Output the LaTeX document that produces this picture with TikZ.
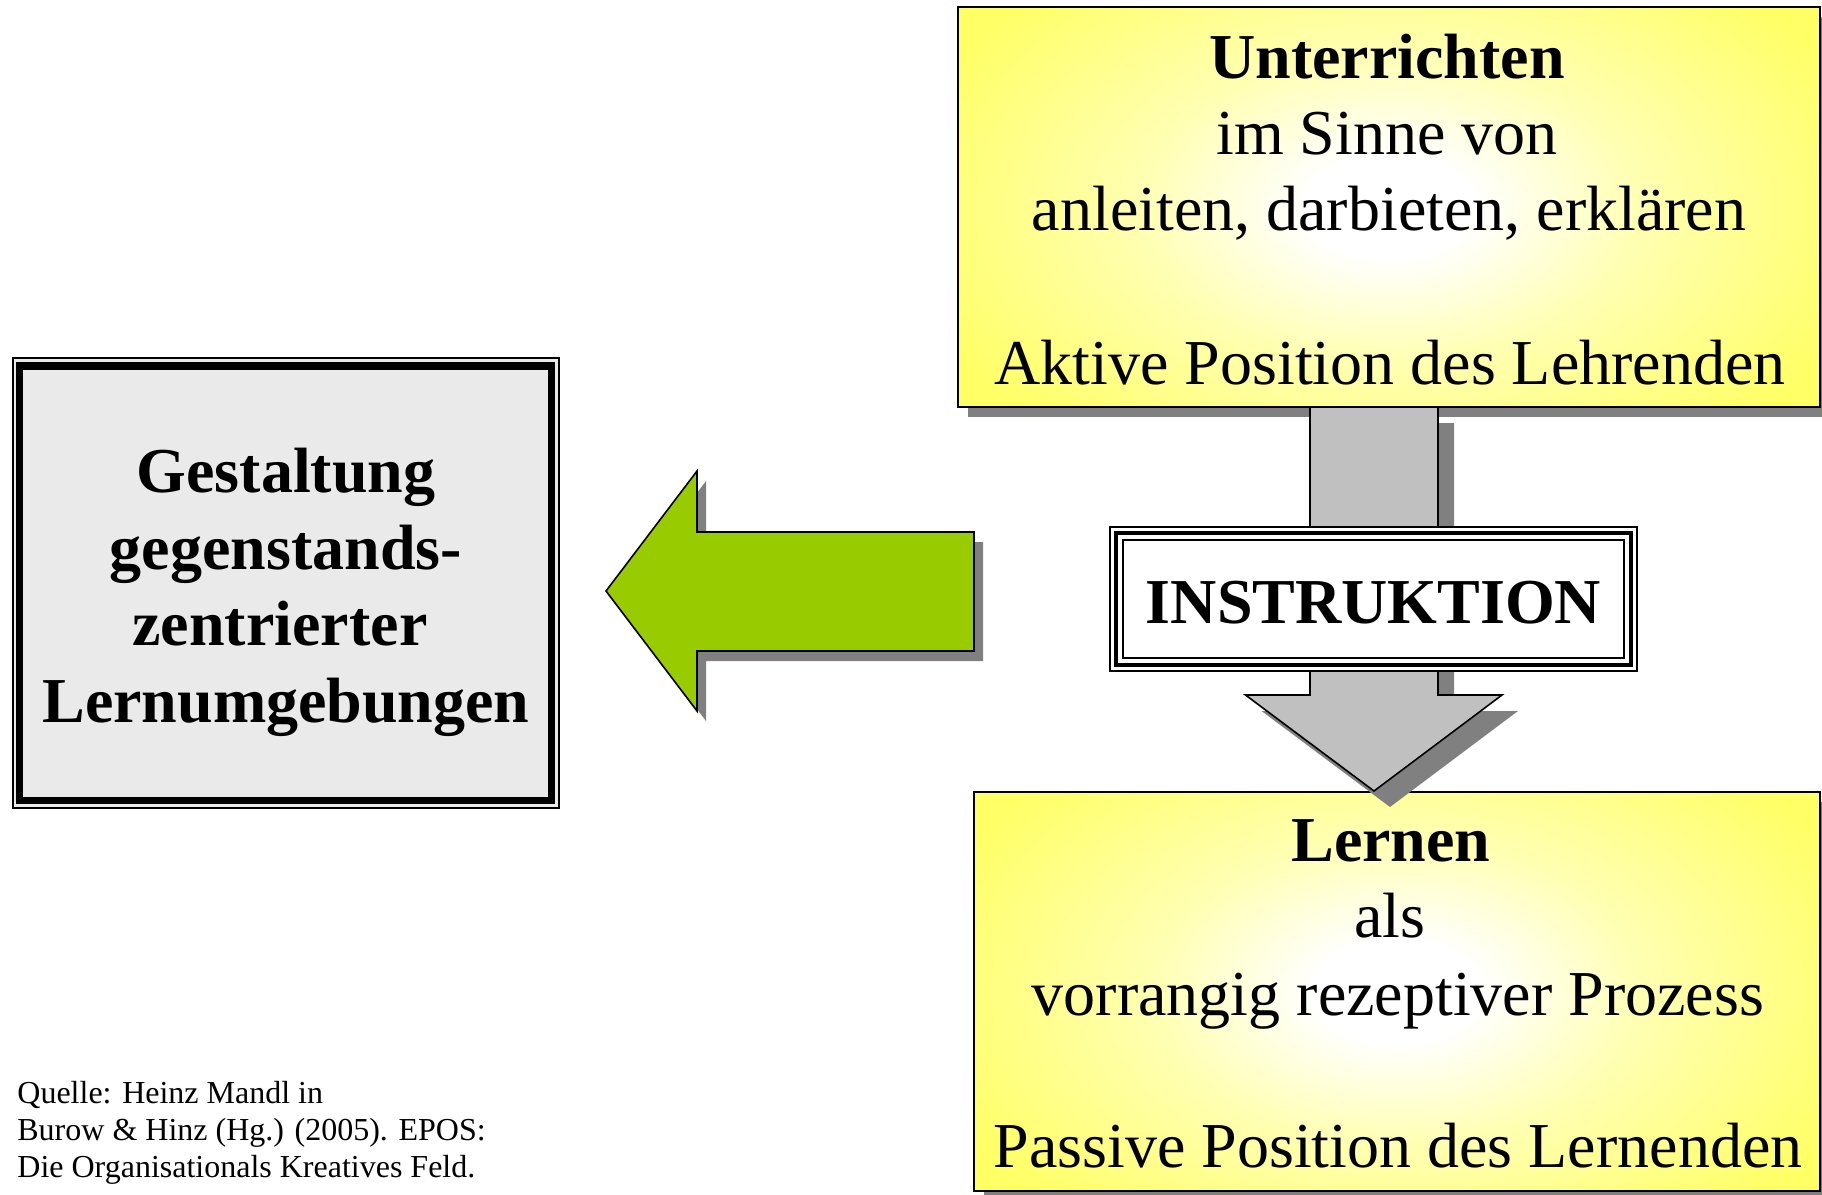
\documentclass[tikz,border=0pt]{standalone}
\usepackage{fontspec}
\setmainfont{Liberation Serif}
\definecolor{yel}{RGB}{255,255,102}
\definecolor{shad}{RGB}{128,128,128}
\definecolor{arrgrey}{RGB}{192,192,192}
\definecolor{grn}{RGB}{153,204,0}
\definecolor{lgrey}{RGB}{234,234,234}
\pgfdeclareradialshading{yglow}{\pgfpoint{0bp}{0bp}}{color(0bp)=(white); color(4bp)=(white); color(12bp)=(yel!50!white); color(24bp)=(yel); color(50bp)=(yel)}
\begin{document}
\begin{tikzpicture}[x=0.5pt,y=-0.5pt,
  bigtxt/.style={font=\fontsize{32}{38}\selectfont, anchor=base, inner sep=0pt},
  bigbold/.style={font=\fontsize{32}{38}\selectfont\bfseries, anchor=base, inner sep=0pt},
  smalltxt/.style={font=\fontsize{16}{19}\selectfont, anchor=base west, inner sep=0pt},
  boxline/.style={draw=black, line width=0.8pt},
  shadowfill/.style={fill=shad}]
\useasboundingbox (0,0) rectangle (1822,1195);

% corner coordinates
\coordinate (tNW) at (958,7);   \coordinate (tSE) at (1820,407);
\coordinate (bNW) at (974,792); \coordinate (bSE) at (1820,1191);

% shadows of yellow boxes
\fill[shadowfill] ([shift={(10,10)}]tNW) rectangle ([shift={(10,10)}]tSE);
\fill[shadowfill] ([shift={(10,10)}]bNW) rectangle ([shift={(10,10)}]bSE);

% top yellow box
\begin{scope}
  \clip (tNW) rectangle (tSE);
  \shade[shading=yglow] (872,-113) rectangle (1906,527);
\end{scope}
\draw[boxline] (tNW) rectangle (tSE);

% bottom yellow box
\begin{scope}
  \clip (bNW) rectangle (bSE);
  \shade[shading=yglow] (889,672) rectangle (1905,1311);
\end{scope}
\draw[boxline] (bNW) rectangle (bSE);

% vertical block arrow (shadow + arrow)
\fill[shadowfill, shift={(16,16)}] (1310,407) -- (1438,407) -- (1438,695) -- (1502,695) -- (1374,791) -- (1245.5,695) -- (1310,695) -- cycle;
\filldraw[fill=arrgrey, boxline] (1310,407) -- (1438,407) -- (1438,695) -- (1502,695) -- (1374,791) -- (1245.5,695) -- (1310,695) -- cycle;

% INSTRUKTION box
\fill[white] (1110,527) rectangle (1637,671);
\draw[line width=0.75pt] (1110,527) rectangle (1637,671);
\draw[line width=2.25pt] (1116,533) rectangle (1631,665);
\draw[line width=0.85pt] (1123,540) rectangle (1624,658);
\node[bigbold] (instr) at (1373.5,623) {INSTRUKTION};

% green block arrow
\fill[shadowfill, shift={(9,10)}] (974,532) -- (697,532) -- (697,471) -- (606,591) -- (697,711) -- (697,651) -- (974,651) -- cycle;
\filldraw[fill=grn, boxline] (974,532) -- (697,532) -- (697,471) -- (606,591) -- (697,711) -- (697,651) -- (974,651) -- cycle;

% left grey box
\fill[lgrey] (13,358) rectangle (559,808);
\draw[line width=0.7pt] (13,358) rectangle (559,808);
\draw[line width=3.75pt] (19.5,366) rectangle (551.5,800.5);

% texts top box
\node[bigbold] (t1) at (1387,78) {Unterrichten};
\node[bigtxt] (t2) at (1387,154) {im Sinne von};
\node[bigtxt] (t3) at (1389,230) {anleiten, darbieten, erklären};
\node[bigtxt] (t4) at (1390,384) {Aktive Position des Lehrenden};

% texts bottom box
\node[bigbold] (b1) at (1391,861) {Lernen};
\node[bigtxt] (b2) at (1390,937) {als};
\node[bigtxt] (b3) at (1398,1015) {vorrangig rezeptiver Prozess};
\node[bigtxt] (b4) at (1398,1167) {Passive Position des Lernenden};

% texts left box
\node[bigbold] (l1) at (286,492) {Gestaltung};
\node[bigbold] (l2) at (286,569) {gegenstands-};
\node[bigbold] (l3) at (280,645) {zentrierter};
\node[bigbold] (l4) at (286,722) {Lernumgebungen};

% source
\node[smalltxt] (q1) at (17,1103) {Quelle: Heinz Mandl in};
\node[smalltxt] (q2) at (17,1140) {Burow \& Hinz (Hg.) (2005). EPOS:};
\node[smalltxt] (q3) at (17,1177) {Die Organisationals Kreatives Feld.};
\end{tikzpicture}
\end{document}
